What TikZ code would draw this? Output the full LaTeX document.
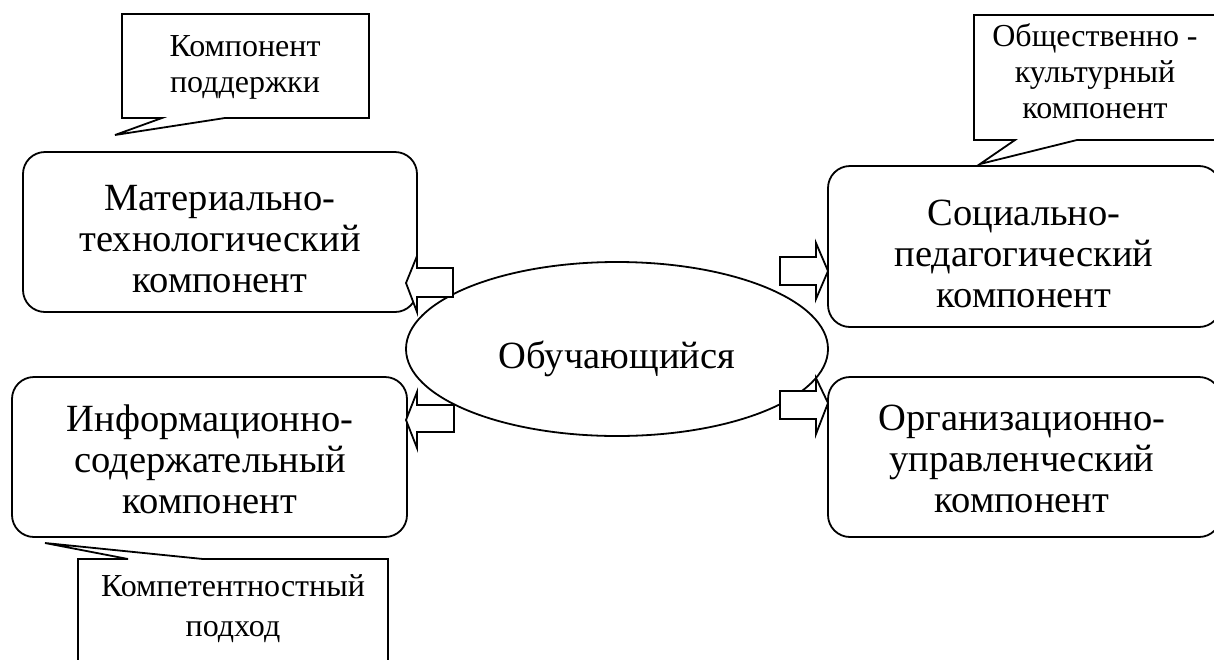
\documentclass[tikz,border=0pt]{standalone}
\usepackage{fontspec}
\setmainfont{Liberation Serif}
\usetikzlibrary{shapes.geometric}
\begin{document}
\begin{tikzpicture}[x=1pt, y=-1pt, line width=1.8pt, line join=miter,
  comp/.style={font=\fontsize{38.5}{41}\selectfont, align=center, inner sep=0pt},
  note/.style={font=\fontsize{32}{36}\selectfont, align=center, inner sep=0pt},
  frame/.style={draw, rounded corners=22pt, inner sep=0pt},
  bubble/.style={draw, fill=white},
  blockarrow/.style={draw, fill=white}]
\useasboundingbox (0,0) rectangle (1214,659);
\begin{scope}
\clip (0,0) rectangle (1214,659);

% speech-bubble notes
\draw[bubble] (122,14) -- (369,14) -- (369,118) -- (225,118) -- (115,135)
  -- (162,118) -- (122,118) -- cycle;
\node[note] (support) at (245,67) {Компонент\\поддержки};

\draw[bubble] (974,15) -- (1230,15) -- (1230,140) -- (1077,140) -- (980,164)
  -- (1015,140) -- (974,140) -- cycle;
\node[note] (culture) at (1095,71) {Общественно -\\культурный\\компонент};

\draw[bubble] (78,680) -- (78,559) -- (128,559) -- (45,543) -- (203,559)
  -- (388,559) -- (388,680);
\node[note, font=\fontsize{32}{40}\selectfont] (competence) at (233,609)
  {Компетентностный\\подход};

% component boxes
\draw[frame] (23,152) rectangle (417,312);
\node[comp] (material) at (220,239) {Материально-\\технологический\\компонент};

\draw[frame] (12,377) rectangle (407,537);
\node[comp] (information) at (210,459) {Информационно-\\содержательный\\компонент};

\draw[frame] (828,166) rectangle (1221,327);
\node[comp] (social) at (1024,254) {Социально-\\педагогический\\компонент};

\draw[frame] (828,377) rectangle (1221,537);
\node[comp] (organisation) at (1022,459) {Организационно-\\управленческий\\компонент};

% learner in the centre
\node[draw, ellipse, minimum width=422pt, minimum height=174pt, inner sep=0pt]
  (learner) at (617,349) {};
\node[comp] (learnertext) at (617,359) {Обучающийся};

% block arrows from the learner to the components
\draw[blockarrow] (406,283) -- (417,256) -- (417,268) -- (453,268) -- (453,297)
  -- (417,297) -- (417,312) -- cycle;
\draw[blockarrow] (406,420) -- (417,392) -- (417,405) -- (454,405) -- (454,432)
  -- (417,432) -- (417,448) -- cycle;
\draw[blockarrow] (828,271) -- (816,243) -- (816,257) -- (780,257) -- (780,285)
  -- (816,285) -- (816,299) -- cycle;
\draw[blockarrow] (828,403) -- (816,378) -- (816,391) -- (780,391) -- (780,419)
  -- (816,419) -- (816,434) -- cycle;
\end{scope}
\end{tikzpicture}
\end{document}
